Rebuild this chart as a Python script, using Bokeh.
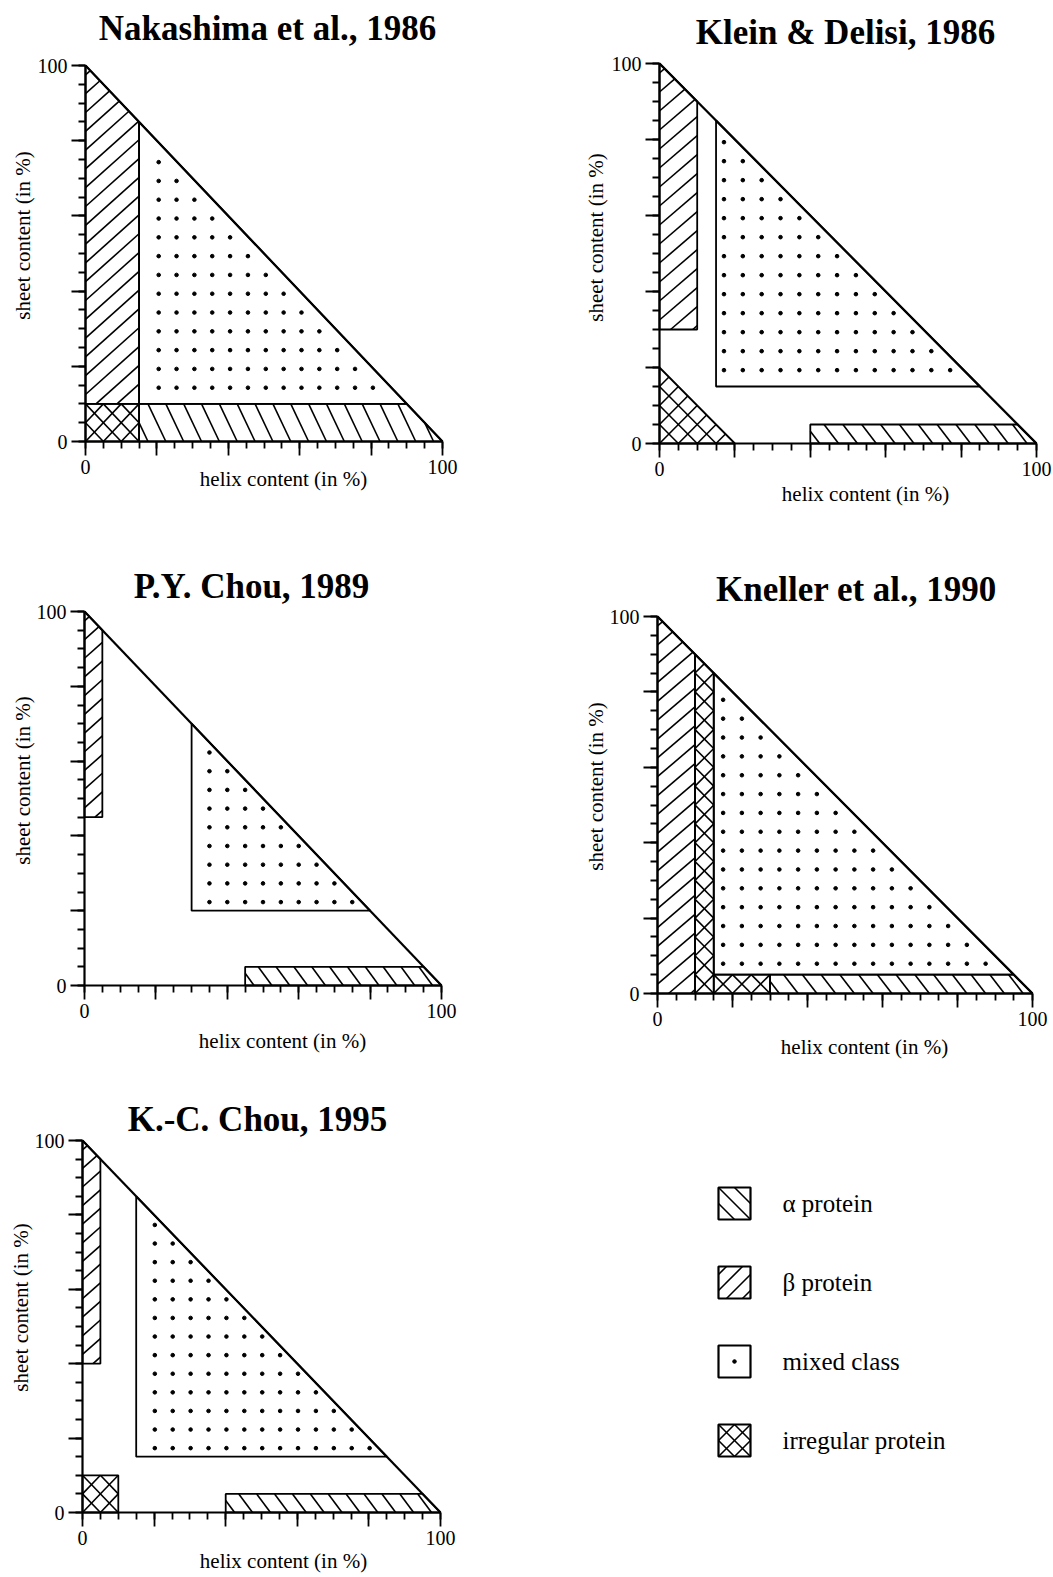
import math
from bokeh.plotting import figure
from bokeh.models import Range1d, FixedTicker, LinearAxis, ColumnDataSource
from bokeh.layouts import column, row
from bokeh.embed import file_html
from bokeh.resources import INLINE
from bokeh.core.properties import value

# ---------------- data ----------------
TITLES = ["Nakashima et al., 1986", "Klein & Delisi, 1986", "P.Y. Chou, 1989",
          "Kneller et al., 1990", "K.-C. Chou, 1995"]
X_LABEL = "helix content (in %)"
Y_LABEL = "sheet content (in %)"
MAJOR_TICKS = [0, 20, 40, 60, 80, 100]
MINOR_TICKS = [0, 5, 10, 15, 20, 25, 30, 35, 40, 45, 50, 55, 60, 65, 70, 75, 80, 85, 90, 95, 100]
TICK_LABELS = {0: "0", 100: "100"}
DIAG_HELIX = [0, 100]
DIAG_SHEET = [100, 0]

# class regions: (helix %, sheet %) vertices
NAKASHIMA_ALPHA = [(15, 0), (100, 0), (90, 10), (15, 10)]
NAKASHIMA_BETA = [(0, 10), (15, 10), (15, 85), (0, 100)]
NAKASHIMA_MIXED = [(15, 10), (90, 10), (15, 85)]
NAKASHIMA_IRREG = [[(0, 0), (15, 0), (15, 10), (0, 10)]]

KLEIN_ALPHA = [(40, 0), (100, 0), (95, 5), (40, 5)]
KLEIN_BETA = [(0, 30), (10, 30), (10, 90), (0, 100)]
KLEIN_MIXED = [(15, 15), (85, 15), (15, 85)]
KLEIN_IRREG = [[(0, 0), (20, 0), (0, 20)]]

PYCHOU_ALPHA = [(45, 0), (100, 0), (95, 5), (45, 5)]
PYCHOU_BETA = [(0, 45), (5, 45), (5, 95), (0, 100)]
PYCHOU_MIXED = [(30, 20), (80, 20), (30, 70)]
PYCHOU_IRREG = []

KNELLER_ALPHA = [(30, 0), (100, 0), (95, 5), (30, 5)]
KNELLER_BETA = [(0, 0), (10, 0), (10, 90), (0, 100)]
KNELLER_MIXED = [(15, 5), (95, 5), (15, 85)]
KNELLER_IRREG = [[(10, 0), (15, 0), (15, 85), (10, 90)], [(15, 0), (30, 0), (30, 5), (15, 5)]]

KCCHOU_ALPHA = [(40, 0), (100, 0), (95, 5), (40, 5)]
KCCHOU_BETA = [(0, 40), (5, 40), (5, 95), (0, 100)]
KCCHOU_MIXED = [(15, 15), (85, 15), (15, 85)]
KCCHOU_IRREG = [[(0, 0), (10, 0), (10, 10), (0, 10)]]

LEGEND_LABELS = ["α protein", "β protein", "mixed class", "irregular protein"]
LEGEND_KINDS = ["alpha", "beta", "mixed", "irregular"]

REGIONS = [
    (NAKASHIMA_ALPHA, NAKASHIMA_BETA, NAKASHIMA_MIXED, NAKASHIMA_IRREG),
    (KLEIN_ALPHA, KLEIN_BETA, KLEIN_MIXED, KLEIN_IRREG),
    (PYCHOU_ALPHA, PYCHOU_BETA, PYCHOU_MIXED, PYCHOU_IRREG),
    (KNELLER_ALPHA, KNELLER_BETA, KNELLER_MIXED, KNELLER_IRREG),
    (KCCHOU_ALPHA, KCCHOU_BETA, KCCHOU_MIXED, KCCHOU_IRREG),
]

# ---------------- layout / style (page pixels) ----------------
FONT = "Liberation Serif"
# fig = (left, top, width, height); axes box = (x0, x100, y100, y0) in page pixels
LAYOUT = [
    dict(fig=(0, 0, 560, 545), box=(85, 442, 65, 441), title=(267, 28), xlab=(283, 478), ylab=(22, 235),
         dot=(20.5, 14.3), aslope=2.0),
    dict(fig=(560, 0, 493, 545), box=(659, 1036, 63, 443), title=(845, 32), xlab=(865, 493), ylab=(595, 237),
         dot=(17.1, 19.3), aslope=1.3),
    dict(fig=(0, 545, 560, 530), box=(84, 441, 611, 985), title=(251, 586), xlab=(282, 1040), ylab=(22, 780),
         dot=(35.0, 22.3), aslope=1.3),
    dict(fig=(560, 545, 493, 530), box=(657, 1032, 616, 993), title=(856, 589), xlab=(864, 1046), ylab=(595, 786),
         dot=(17.5, 7.9), aslope=1.3),
    dict(fig=(0, 1075, 560, 501), box=(82, 440, 1140, 1512), title=(257, 1119), xlab=(283, 1560), ylab=(20, 1307),
         dot=(20.2, 17.3), aslope=1.3),
]
BETA_SLOPE = 0.85
HATCH_STEP = 5.0
HATCH_W = 1.6
OUTLINE_W = 1.8


def hatch_lines(poly, a, b, step, phase=0.0):
    vals = [a * x + b * y for x, y in poly]
    lo, hi = min(vals), max(vals)
    k = math.floor((lo - phase) / step) + 1
    segs = []
    c = phase + k * step
    n = len(poly)
    while c < hi - 1e-9:
        pts = []
        for i in range(n):
            (x1, y1), (x2, y2) = poly[i], poly[(i + 1) % n]
            f1 = a * x1 + b * y1 - c
            f2 = a * x2 + b * y2 - c
            if (f1 < 0) != (f2 < 0):
                t = f1 / (f1 - f2)
                pts.append((x1 + t * (x2 - x1), y1 + t * (y2 - y1)))
        if len(pts) >= 2:
            segs.append((pts[0], pts[1]))
        c += step
    return segs


def draw_segments(p, segs, width=HATCH_W):
    if not segs:
        return
    src = ColumnDataSource(dict(x0=[s[0][0] for s in segs], y0=[s[0][1] for s in segs],
                                x1=[s[1][0] for s in segs], y1=[s[1][1] for s in segs]))
    p.segment("x0", "y0", "x1", "y1", source=src, line_color="black", line_width=width)


def inside(poly, x, y, margin=0.0):
    n = len(poly)
    for i in range(n):
        (x1, y1), (x2, y2) = poly[i], poly[(i + 1) % n]
        ex, ey = x2 - x1, y2 - y1
        cr = ex * (y - y1) - ey * (x - x1)
        if cr / math.hypot(ex, ey) < margin:
            return False
    return True


def dot_grid(poly, origin, step=5.0, limit=99.3):
    xs, ys = [], []
    ox, oy = origin
    for i in range(0, 25):
        for j in range(0, 25):
            x, y = ox + step * i, oy + step * j
            if x + y <= limit and inside(poly, x, y, 1.0):
                xs.append(x)
                ys.append(y)
    return xs, ys


def outline(p, poly, width=OUTLINE_W):
    p.patch([v[0] for v in poly], [v[1] for v in poly], fill_color=None,
            line_color="black", line_width=width)


def style_axis(ax):
    ax.ticker = FixedTicker(ticks=MAJOR_TICKS, minor_ticks=MINOR_TICKS)
    ax.major_label_overrides = {t: TICK_LABELS.get(t, "") for t in MAJOR_TICKS}
    ax.axis_line_width = 2.2
    ax.axis_line_color = "black"
    ax.major_tick_out = 14
    ax.major_tick_in = 0
    ax.minor_tick_out = 7
    ax.minor_tick_in = 0
    ax.major_tick_line_width = 1.8
    ax.minor_tick_line_width = 1.8
    ax.major_tick_line_color = "black"
    ax.minor_tick_line_color = "black"
    ax.major_label_text_font = FONT
    ax.major_label_text_font_size = "20px"
    ax.major_label_text_color = "black"
    ax.major_label_standoff = 4


def make_panel(idx):
    L = LAYOUT[idx]
    fx, fy, fw, fh = L["fig"]
    x0, x100, y100, y0 = L["box"]
    kx = (x100 - x0) / 100.0
    ky = (y0 - y100) / 100.0

    def to_data(px, py):
        return (px - x0) / kx, (y0 - py) / ky

    alpha, beta, mixed, irregs = REGIONS[idx]
    p = figure(width=fw, height=fh, title=None,
               x_range=Range1d((fx - x0) / kx, (fx + fw - x0) / kx),
               y_range=Range1d((y0 - (fy + fh)) / ky, (y0 - fy) / ky),
               output_backend="svg", toolbar_location=None,
               x_axis_location=None, y_axis_location=None, min_border=0)
    p.outline_line_color = None
    p.grid.visible = False
    p.background_fill_color = "white"
    p.border_fill_color = "white"

    xa = LinearAxis(fixed_location=0, bounds=(0, 100))
    ya = LinearAxis(fixed_location=0, bounds=(0, 100))
    style_axis(xa)
    style_axis(ya)

    # alpha: steep "\" hatch
    s = L["aslope"]
    draw_segments(p, hatch_lines(alpha, 1.0, 1.0 / s, HATCH_STEP, 2.5))
    outline(p, alpha)
    # beta: "/" hatch
    draw_segments(p, hatch_lines(beta, -BETA_SLOPE, 1.0, HATCH_STEP, 2.5))
    outline(p, beta)
    # irregular: cross hatch
    for poly in irregs:
        draw_segments(p, hatch_lines(poly, -1.0, 1.0, HATCH_STEP, 0.0))
        draw_segments(p, hatch_lines(poly, 1.0, 1.0, HATCH_STEP, 0.0))
        outline(p, poly)
    # mixed: dots
    dx, dy = dot_grid(mixed, L["dot"])
    p.scatter(dx, dy, size=3.6, marker="circle", color="black")
    outline(p, mixed)
    # constraint helix + sheet = 100
    p.line(DIAG_HELIX, DIAG_SHEET, line_color="black", line_width=2.2)

    p.add_layout(xa, "below")
    p.add_layout(ya, "left")

    tx, ty = to_data(*L["title"])
    p.text([tx], [ty], text=[TITLES[idx]], text_font=value(FONT), text_font_style="bold",
           text_font_size="35px", text_align="center", text_baseline="middle", text_color="black")
    lx, ly = to_data(*L["xlab"])
    p.text([lx], [ly], text=[X_LABEL], text_font=value(FONT), text_font_size="21px",
           text_align="center", text_baseline="middle", text_color="black")
    vx, vy = to_data(*L["ylab"])
    p.text([vx], [vy], text=[Y_LABEL], angle=math.pi / 2, text_font=value(FONT), text_font_size="21px",
           text_align="center", text_baseline="middle", text_color="black")
    return p


# ---------------- legend panel ----------------
LEG_FIG = (560, 1075, 493, 501)
LEG_SQ_X = 718
LEG_SIDE = 32
LEG_ROW_Y = [1203, 1282, 1361, 1440]
LEG_TEXT_X = 782


def make_legend():
    fx, fy, fw, fh = LEG_FIG
    p = figure(width=fw, height=fh, title=None, x_range=Range1d(fx, fx + fw),
               y_range=Range1d(fy + fh, fy), output_backend="svg",
               toolbar_location=None, x_axis_location=None, y_axis_location=None, min_border=0)
    p.outline_line_color = None
    p.grid.visible = False
    S = LEG_SIDE
    for kind, yc in zip(LEGEND_KINDS, LEG_ROW_Y):
        x0, y0 = LEG_SQ_X, yc - S / 2
        sq = [(x0, y0), (x0 + S, y0), (x0 + S, y0 + S), (x0, y0 + S)]
        if kind == "alpha":
            draw_segments(p, hatch_lines(sq, -1.0, 1.0, S / 2, y0 - x0), 1.6)
        elif kind == "beta":
            draw_segments(p, hatch_lines(sq, 1.0, 1.0, S / 2, x0 + y0 + S / 4), 1.6)
        elif kind == "irregular":
            draw_segments(p, hatch_lines(sq, -1.0, 1.0, S / 2, y0 - x0), 1.6)
            draw_segments(p, hatch_lines(sq, 1.0, 1.0, S / 2, x0 + y0), 1.6)
        else:
            p.scatter([x0 + S / 2], [yc], size=3.6, color="black")
        p.patch([v[0] for v in sq], [v[1] for v in sq], fill_color=None,
                line_color="black", line_width=2.2)
    src = ColumnDataSource(dict(x=[LEG_TEXT_X] * len(LEGEND_LABELS), y=LEG_ROW_Y, t=LEGEND_LABELS))
    p.text("x", "y", text="t", source=src, text_font=value(FONT), text_font_size="25px",
           text_baseline="middle", text_align="left", text_color="black")
    return p


panels = [make_panel(i) for i in range(5)]
legend = make_legend()
layout = column(row(panels[0], panels[1]), row(panels[2], panels[3]), row(panels[4], legend))
open("out.html", "w").write(file_html(layout, INLINE))
